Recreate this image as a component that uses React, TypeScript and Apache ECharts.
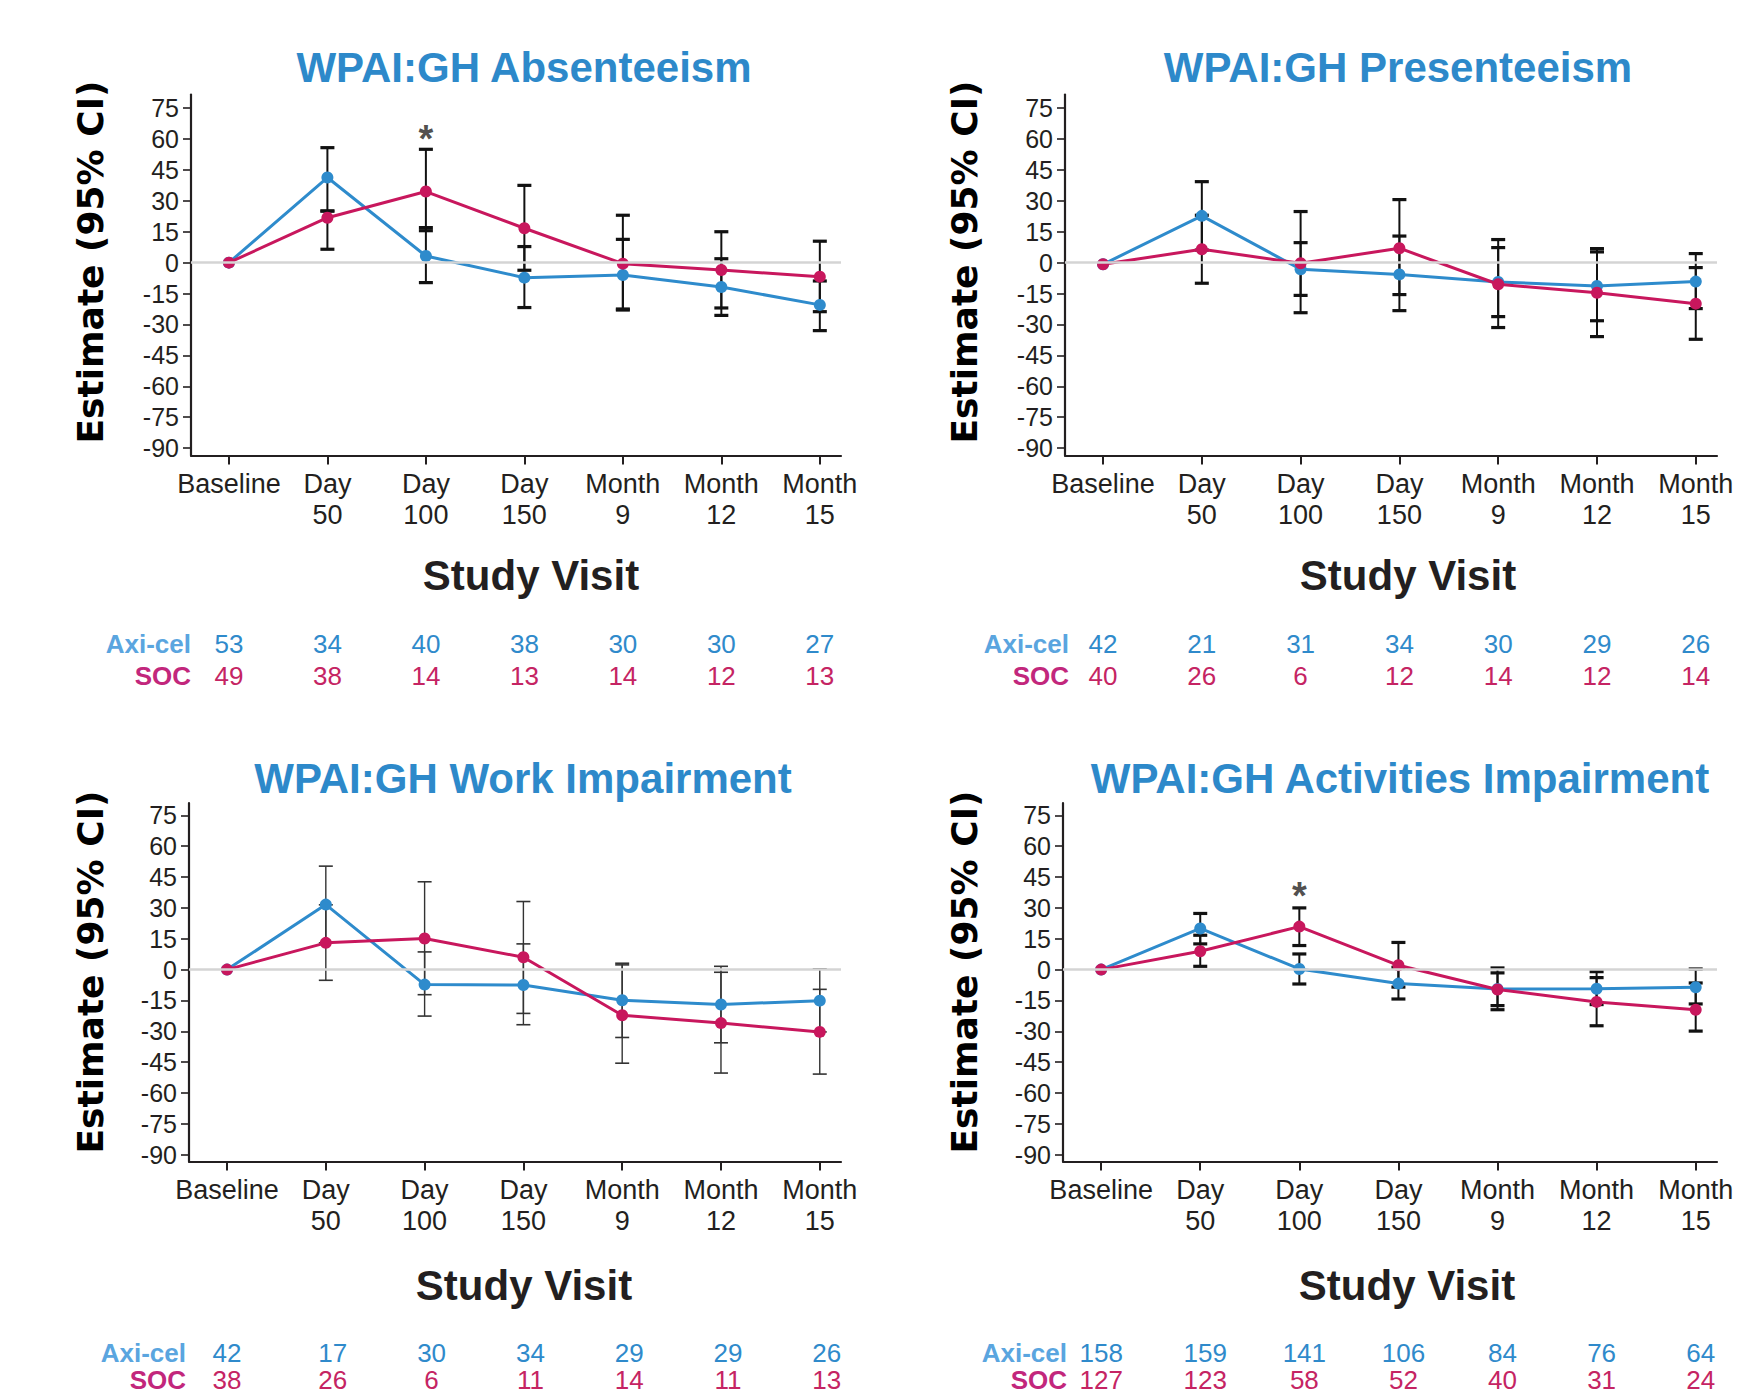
import React, { useEffect, useRef } from "react";
import * as echarts from "echarts";

// ---------- data ----------
const categories = ["Baseline", "Day\n50", "Day\n100", "Day\n150", "Month\n9", "Month\n12", "Month\n15"];
const yTicks = [-90, -75, -60, -45, -30, -15, 0, 15, 30, 45, 60, 75];
const xTicks = [0, 1, 2, 3, 4, 5, 6];

const titles = ["WPAI:GH Absenteeism", "WPAI:GH Presenteeism", "WPAI:GH Work Impairment", "WPAI:GH Activities Impairment"];

// Absenteeism
const absAxi = [0, 41.3, 3.2, -7.3, -6.0, -11.8, -20.5];
const absAxiLo = [null, 25.1, -9.7, -21.8, -23, -25.6, -33];
const absAxiHi = [null, 55.8, 17, 7.8, 11.3, 1.9, -8.9];
const absSoc = [0, 21.8, 34.5, 16.7, -0.5, -3.6, -6.8];
const absSocLo = [null, 6.5, 15.5, -3.7, -22.5, -22, -23.8];
const absSocHi = [null, 25, 55, 37.5, 23, 15, 10.4];
const absNAxi = [53, 34, 40, 38, 30, 30, 27];
const absNSoc = [49, 38, 14, 13, 14, 12, 13];

// Presenteeism
const preAxi = [-0.8, 22.7, -3.2, -5.7, -9.4, -11.3, -9.2];
const preAxiLo = [null, 6.1, -15.9, -23.3, -26.2, -28.2, -22.3];
const preAxiHi = [null, 39.3, 9.7, 12.9, 7.3, 5.2, 4.4];
const preSoc = [-0.8, 6.5, -0.3, 7.0, -10.5, -14.6, -19.9];
const preSocLo = [null, -10, -24.3, -15.5, -31.5, -35.9, -37.2];
const preSocHi = [null, 23, 24.8, 30.6, 11.2, 6.8, -2.4];
const preNAxi = [42, 21, 31, 34, 30, 29, 26];
const preNSoc = [40, 26, 6, 12, 14, 12, 14];

// Work impairment
const wrkAxi = [0, 31.6, -7.3, -7.5, -14.9, -17, -15.1];
const wrkAxiLo = [null, 13, -22.6, -26.8, -33, -35.6, -30.3];
const wrkAxiHi = [null, 50.3, 8.6, 12.5, 3.1, 1.6, 0.3];
const wrkSoc = [0, 13, 15.1, 6, -22.2, -26, -30.3];
const wrkSocLo = [null, -5.2, -12.2, -21.3, -45.5, -50.3, -50.8];
const wrkSocHi = [null, 31.5, 42.7, 33.1, 2.3, -1.3, -9.6];
const wrkNAxi = [42, 17, 30, 34, 29, 29, 26];
const wrkNSoc = [38, 26, 6, 11, 14, 11, 13];

// Activities impairment
const actAxi = [0, 20, 0.3, -6.8, -9.4, -9.3, -8.6];
const actAxiLo = [null, 12.5, -7, -14.3, -17.5, -17, -16.7];
const actAxiHi = [null, 27.3, 7.6, 1.1, -1.6, -1, 0.3];
const actSoc = [0, 8.9, 20.9, 2.1, -9.7, -15.7, -19.5];
const actSocLo = [null, 1.6, 11.7, -8.5, -19.5, -27.3, -29.9];
const actSocHi = [null, 16.7, 30, 13.2, 0.8, -3.9, -6.5];
const actNAxi = [158, 159, 141, 106, 84, 76, 64];
const actNSoc = [127, 123, 58, 52, 40, 31, 24];

// significance markers: [panel, category index, y position]
const starMarks = [
  [0, 2, 60],
  [3, 2, 36],
];

// ---------- styling / layout ----------
const FONT = "'Liberation Sans', Arial, Helvetica, sans-serif";
const BLUE = "#2E8BCC";
const PINK = "#C8175D";
const TITLE_BLUE = "#2D89CA";
const AXI_LABEL = "#5AA5DF";
const SOC_LABEL = "#C2277C";
const INK = "#231f20";

const layouts = [
  { left: 191, top: 94.5, width: 650, height: 361, ymin: -93.6, ymax: 81.6, titleX: 524, titleY: 67, yLabX: 90, yLabY: 262, svX: 531, svY: 575, labR: 191, rowA: 644, rowS: 676, nOff: 0, thin: false },
  { left: 1065, top: 94.5, width: 652, height: 361, ymin: -93.6, ymax: 81.6, titleX: 1398, titleY: 67, yLabX: 964, yLabY: 262, svX: 1408, svY: 575, labR: 1069, rowA: 644, rowS: 676, nOff: 0, thin: false },
  { left: 189, top: 803, width: 652, height: 358.5, ymin: -93.3, ymax: 81, titleX: 523, titleY: 778, yLabX: 90, yLabY: 972, svX: 524, svY: 1285, labR: 186, rowA: 1353, rowS: 1380, nOff: 7, thin: true },
  { left: 1063, top: 803, width: 654, height: 358.5, ymin: -93.3, ymax: 81, titleX: 1400, titleY: 778, yLabX: 964, yLabY: 972, svX: 1407, svY: 1285, labR: 1067, rowA: 1353, rowS: 1380, nOff: 5, thin: false },
];

const panelData = [
  { axi: absAxi, axiLo: absAxiLo, axiHi: absAxiHi, soc: absSoc, socLo: absSocLo, socHi: absSocHi, nAxi: absNAxi, nSoc: absNSoc },
  { axi: preAxi, axiLo: preAxiLo, axiHi: preAxiHi, soc: preSoc, socLo: preSocLo, socHi: preSocHi, nAxi: preNAxi, nSoc: preNSoc },
  { axi: wrkAxi, axiLo: wrkAxiLo, axiHi: wrkAxiHi, soc: wrkSoc, socLo: wrkSocLo, socHi: wrkSocHi, nAxi: wrkNAxi, nSoc: wrkNSoc },
  { axi: actAxi, axiLo: actAxiLo, axiHi: actAxiHi, soc: actSoc, socLo: actSocLo, socHi: actSocHi, nAxi: actNAxi, nSoc: actNSoc },
];

function errData(lo: (number | null)[], hi: (number | null)[]) {
  const out: number[][] = [];
  lo.forEach((l, i) => {
    const h = hi[i];
    if (l !== null && h !== null) out.push([i, l, h]);
  });
  return out;
}

function makeErrorRender(thin: boolean) {
  return (params: any, api: any) => {
    const x = api.value(0);
    const pLo = api.coord([x, api.value(1)]);
    const pHi = api.coord([x, api.value(2)]);
    const hw = 7;
    const stroke = thin ? "#333333" : "#111111";
    const vw = thin ? 1.4 : 2;
    const cw = thin ? 1.6 : 3.2;
    return {
      type: "group",
      children: [
        { type: "line", shape: { x1: pLo[0], y1: pLo[1], x2: pHi[0], y2: pHi[1] }, style: { stroke, lineWidth: vw } },
        { type: "line", shape: { x1: pLo[0] - hw, y1: pLo[1], x2: pLo[0] + hw, y2: pLo[1] }, style: { stroke, lineWidth: cw } },
        { type: "line", shape: { x1: pHi[0] - hw, y1: pHi[1], x2: pHi[0] + hw, y2: pHi[1] }, style: { stroke, lineWidth: cw } },
      ],
    };
  };
}

function buildOption() {
  const grid: any[] = [];
  const xAxis: any[] = [];
  const yAxis: any[] = [];
  const series: any[] = [];
  const graphic: any[] = [];

  layouts.forEach((L, i) => {
    const d = panelData[i];
    grid.push({ left: L.left, top: L.top, width: L.width, height: L.height, containLabel: false });
    xAxis.push({
      type: "value",
      gridIndex: i,
      min: -0.385,
      max: 6.215,
      position: "bottom",
      axisLine: { show: true, onZero: false, lineStyle: { color: INK, width: 2.2 } },
      axisTick: { show: true, length: 9, customValues: xTicks, lineStyle: { color: INK, width: 2 } },
      axisLabel: {
        customValues: xTicks,
        formatter: (v: number) => categories[Math.round(v)],
        fontFamily: FONT,
        fontSize: 27,
        lineHeight: 31,
        color: INK,
        margin: 13,
      },
      splitLine: { show: false },
    });
    yAxis.push({
      type: "value",
      gridIndex: i,
      min: L.ymin,
      max: L.ymax,
      axisLine: { show: true, onZero: false, lineStyle: { color: INK, width: 2.2 } },
      axisTick: { show: true, length: 8, customValues: yTicks, lineStyle: { color: INK, width: 1.6 } },
      axisLabel: { customValues: yTicks, fontFamily: FONT, fontSize: 25, color: INK, margin: 12 },
      splitLine: { show: false },
    });

    const render = makeErrorRender(L.thin);
    series.push({
      type: "custom",
      xAxisIndex: i,
      yAxisIndex: i,
      z: 1,
      renderItem: render,
      encode: { x: 0, y: [1, 2] },
      data: errData(d.axiLo, d.axiHi),
      markLine: {
        silent: true,
        symbol: ["none", "none"],
        label: { show: false },
        lineStyle: { color: "#d4d4d4", width: 2.5, type: "solid" },
        data: [{ yAxis: 0 }],
      },
    });
    series.push({
      type: "custom",
      xAxisIndex: i,
      yAxisIndex: i,
      z: 1,
      renderItem: render,
      encode: { x: 0, y: [1, 2] },
      data: errData(d.socLo, d.socHi),
    });
    series.push({
      type: "line",
      name: "Axi-cel",
      xAxisIndex: i,
      yAxisIndex: i,
      z: 3,
      data: d.axi.map((v, k) => [k, v]),
      symbol: "circle",
      symbolSize: 12,
      itemStyle: { color: BLUE },
      lineStyle: { color: BLUE, width: 3 },
    });
    series.push({
      type: "line",
      name: "SOC",
      xAxisIndex: i,
      yAxisIndex: i,
      z: 4,
      data: d.soc.map((v, k) => [k, v]),
      symbol: "circle",
      symbolSize: 12,
      itemStyle: { color: PINK },
      lineStyle: { color: PINK, width: 3 },
    });

    const stars = starMarks.filter((s) => s[0] === i).map((s) => [s[1], s[2]]);
    if (stars.length) {
      series.push({
        type: "scatter",
        xAxisIndex: i,
        yAxisIndex: i,
        z: 5,
        symbolSize: 1,
        itemStyle: { color: "rgba(0,0,0,0)" },
        data: stars,
        label: { show: true, position: "inside", formatter: "*", fontFamily: FONT, fontWeight: "bold", fontSize: 38, color: INK },
      });
    }

    graphic.push({
      type: "text",
      x: L.titleX,
      y: L.titleY,
      style: { text: titles[i], fill: TITLE_BLUE, font: `bold 42px ${FONT}`, textAlign: "center", textVerticalAlign: "middle" },
    });
    graphic.push({
      type: "text",
      x: L.yLabX,
      y: L.yLabY,
      rotation: Math.PI / 2,
      style: { text: "Estimate (95% CI)", fill: "#000000", font: `bold 36px 'DejaVu Sans', sans-serif`, textAlign: "center", textVerticalAlign: "middle" },
    });
    graphic.push({
      type: "text",
      x: L.svX,
      y: L.svY,
      style: { text: "Study Visit", fill: INK, font: `bold 42px ${FONT}`, textAlign: "center", textVerticalAlign: "middle" },
    });
    graphic.push({
      type: "text",
      x: L.labR,
      y: L.rowA,
      style: { text: "Axi-cel", fill: AXI_LABEL, font: `bold 26px ${FONT}`, textAlign: "right", textVerticalAlign: "middle" },
    });
    graphic.push({
      type: "text",
      x: L.labR,
      y: L.rowS,
      style: { text: "SOC", fill: SOC_LABEL, font: `bold 26px ${FONT}`, textAlign: "right", textVerticalAlign: "middle" },
    });
  });

  return {
    animation: false,
    backgroundColor: "#ffffff",
    grid,
    xAxis,
    yAxis,
    series,
    graphic,
  };
}

export default function App() {
  const ref = useRef<HTMLDivElement>(null);
  useEffect(() => {
    if (!ref.current) return;
    const chart = echarts.init(ref.current, undefined, { renderer: "svg" });
    const option: any = buildOption();
    chart.setOption(option);

    // N-at-risk table aligned to each panel's x scale
    const extra: any[] = [];
    layouts.forEach((L, i) => {
      const d = panelData[i];
      xTicks.forEach((t, k) => {
        const px = chart.convertToPixel({ xAxisIndex: i }, t) as number;
        const x = k === 0 ? px : px + L.nOff;
        extra.push({
          type: "text",
          x,
          y: L.rowA,
          style: { text: String(d.nAxi[k]), fill: "#2F8ACB", font: `26px ${FONT}`, textAlign: "center", textVerticalAlign: "middle" },
        });
        extra.push({
          type: "text",
          x,
          y: L.rowS,
          style: { text: String(d.nSoc[k]), fill: "#C52463", font: `26px ${FONT}`, textAlign: "center", textVerticalAlign: "middle" },
        });
      });
    });
    chart.setOption({ graphic: [...option.graphic, ...extra] });
    return () => chart.dispose();
  }, []);
  return <div ref={ref} style={{ position: "absolute", left: 0, top: 0, width: 1763, height: 1394 }} />;
}
